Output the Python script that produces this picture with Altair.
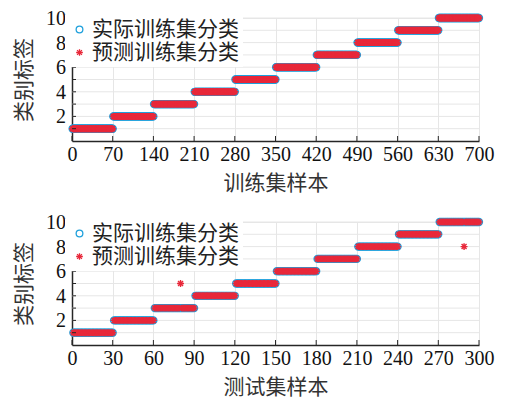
import altair as alt
import pandas as pd

# ---- data ----
classes = [1, 2, 3, 4, 5, 6, 7, 8, 9, 10]
train_counts = [70, 70, 70, 70, 70, 70, 70, 70, 70, 70]
test_counts = [30, 30, 30, 30, 30, 30, 30, 30, 30, 30]
train_err_index = []
train_err_pred = []
test_err_index = [80, 289]
test_err_pred = [5, 8]

train_xticks = [0, 70, 140, 210, 280, 350, 420, 490, 560, 630, 700]
test_xticks = [0, 30, 60, 90, 120, 150, 180, 210, 240, 270, 300]
ylabels = [2, 4, 6, 8, 10]
ygrid = [1, 2, 3, 4, 5, 6, 7, 8, 9, 10]

lab_actual = "实际训练集分类"
lab_pred = "预测训练集分类"

STAR = "M0,-1L0,1M-1,0L1,0M-0.72,-0.72L0.72,0.72M-0.72,0.72L0.72,-0.72"
BLUE = "#1fa0dc"
RED = "#e8283a"
GRID = "#e6e6e6"
SERIF = "Liberation Serif"
CJK = "Liberation Serif, Noto Sans CJK SC"

W, H = 407, 123


def build(counts, err_idx, err_pred):
    actual = []
    for c, n in zip(classes, counts):
        actual += [c] * n
    pred = list(actual)
    for i, p in zip(err_idx, err_pred):
        pred[i - 1] = p
    rows = [{"n": i + 1, "label": v, "s": lab_actual, "k": 0} for i, v in enumerate(actual)]
    rows += [{"n": i + 1, "label": v, "s": lab_pred, "k": 1} for i, v in enumerate(pred)]
    return pd.DataFrame(rows)


def legend():
    return alt.Legend(title=None, orient="none", legendX=-7, legendY=-3, fillColor="white",
                      padding=4, labelFont=CJK, labelFontSize=21, labelColor="#222",
                      labelLimit=400, symbolSize=45, symbolStrokeWidth=1.3, rowPadding=1,
                      labelOffset=2)


def panel(df, xmax, xticks, xtitle):
    grid = alt.Chart(pd.DataFrame({"label": ygrid})).mark_rule(color=GRID, strokeWidth=1).encode(
        y="label:Q", x=alt.value(0), x2=alt.value(W))
    pts = alt.Chart(df).mark_point(filled=False, strokeWidth=1.4, size=48, opacity=1).encode(
        x=alt.X("n:Q", scale=alt.Scale(domain=[0, xmax], nice=False, zero=False),
                axis=alt.Axis(values=xticks, title=xtitle, grid=True, labelOverlap=False,
                              labelFlush=False)),
        y=alt.Y("label:Q", scale=alt.Scale(domain=[0, 10], nice=False),
                axis=alt.Axis(values=ylabels, title="类别标签", grid=False, labels=False,
                              titlePadding=37)),
        color=alt.Color("s:N", scale=alt.Scale(domain=[lab_actual, lab_pred], range=[BLUE, RED]),
                        legend=legend()),
        shape=alt.Shape("s:N", scale=alt.Scale(domain=[lab_actual, lab_pred], range=["circle", STAR]),
                        legend=legend()),
        order=alt.Order("k:Q", sort="ascending"),
    )
    xt = alt.Chart(pd.DataFrame({"n": xticks})).mark_rule(color="#262626", strokeWidth=1).encode(
        x="n:Q", y=alt.value(H), y2=alt.value(H - 5))
    yt = alt.Chart(pd.DataFrame({"label": ygrid})).mark_rule(color="#262626", strokeWidth=1).encode(
        y="label:Q", x=alt.value(0), x2=alt.value(4))
    ylab = alt.Chart(pd.DataFrame({"label": ylabels})).mark_text(
        align="right", baseline="middle", font=SERIF, fontSize=20, color="#111", dx=-6, dy=1
    ).encode(y="label:Q", x=alt.value(0), text="label:Q")
    return alt.layer(grid, pts, xt, yt, ylab).properties(width=W, height=H)


top = panel(build(train_counts, train_err_index, train_err_pred), 700, train_xticks, "训练集样本")
bottom = panel(build(test_counts, test_err_index, test_err_pred), 300, test_xticks, "测试集样本")

chart = alt.vconcat(top, bottom, spacing=18).resolve_scale(
    color="independent", shape="independent", x="independent"
).properties(padding={"left": 5, "top": 0, "right": 0, "bottom": 0}).configure_view(
    stroke=GRID
).configure_axis(
    labelFont=SERIF, labelFontSize=20, labelColor="#111", labelOverlap=False, labelFlush=False,
    titleFont=CJK, titleFontSize=21, titleFontWeight="normal", titleColor="#333",
    domainColor="#262626", domainWidth=1.5, tickSize=0, gridColor=GRID, gridWidth=1,
).configure_axisX(titlePadding=8, labelPadding=3)

chart.save("out.html", embed_options={"renderer": "svg", "actions": False})
